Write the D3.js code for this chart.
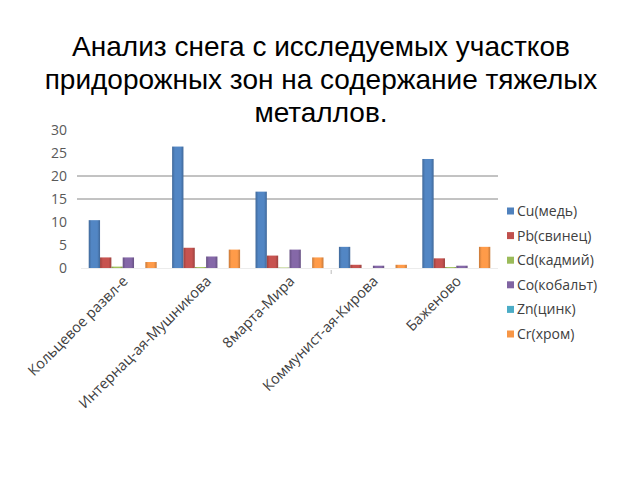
<!DOCTYPE html>
<html><head><meta charset="utf-8">
<script src="https://cdn.jsdelivr.net/npm/d3@7"></script>
<style>body{margin:0;background:#fff;} svg{display:block;}</style>
</head><body>
<svg id="chart" width="640" height="480"></svg>
<script>
const titleLines = ["Анализ снега с исследуемых участков", "придорожных зон на содержание тяжелых", "металлов."];
const categories = ["Кольцевое развл-е", "Интернац-ая-Мушникова", "8марта-Мира", "Коммунист-ая-Кирова", "Баженово"];
const seriesNames = ["Cu(медь)", "Pb(свинец)", "Cd(кадмий)", "Co(кобальт)", "Zn(цинк)", "Cr(хром)"];
const Cu = [10.4, 26.4, 16.6, 4.6, 23.7];
const Pb = [2.3, 4.4, 2.7, 0.7, 2.1];
const Cd = [0.3, 0.2, 0.1, 0, 0.2];
const Co = [2.3, 2.5, 4.0, 0.5, 0.5];
const Zn = [0, 0, 0, 0, 0];
const Cr = [1.3, 4.0, 2.3, 0.7, 4.6];
const seriesValues = [Cu, Pb, Cd, Co, Zn, Cr];
const yTicks = [0, 5, 10, 15, 20, 25, 30];
const gridValues = [15, 20];
const colors = ["#4F81BD", "#C0504D", "#9BBB59", "#8064A2", "#4BACC6", "#F79646"];

const svg = d3.select("#chart");
const labelFont = "'Open Sans', 'DejaVu Sans', sans-serif";

// Title
svg.append("g").selectAll("text").data(titleLines).join("text")
  .attr("x", 321).attr("y", (d, i) => 56 + i * 33)
  .attr("text-anchor", "middle")
  .style("font-family", "'Liberation Sans', Arial, sans-serif")
  .style("font-size", "28px").attr("fill", "#000").text(d => d);

const x0 = d3.scaleBand().domain(categories).range([81, 498]).paddingInner(0.185).paddingOuter(0.0925);
const x1 = d3.scaleBand().domain(seriesNames).range([0, x0.bandwidth()]);
const y = d3.scaleLinear().domain([0, 30]).range([268, 130]);

// gradients
const defs = svg.append("defs");
colors.forEach((c, i) => {
  const g = defs.append("linearGradient").attr("id", "g" + i).attr("x1", "0").attr("x2", "1").attr("y1", "0").attr("y2", "0");
  g.append("stop").attr("offset", "0%").attr("stop-color", d3.color(c).darker(0.6));
  g.append("stop").attr("offset", "25%").attr("stop-color", d3.color(c).brighter(0.1));
  g.append("stop").attr("offset", "75%").attr("stop-color", d3.color(c).brighter(0.1));
  g.append("stop").attr("offset", "100%").attr("stop-color", d3.color(c).darker(0.6));
});

// gridlines
svg.append("g").selectAll("line").data(gridValues).join("line")
  .attr("x1", 77).attr("x2", 498)
  .attr("y1", d => y(d)).attr("y2", d => y(d))
  .attr("stroke", "#868686").attr("stroke-width", 1);

// y axis labels
const yAxis = d3.axisLeft(y).tickValues(yTicks).tickSize(0).tickPadding(0);
const ya = svg.append("g").attr("transform", "translate(67,0)").call(yAxis);
ya.select(".domain").remove();
ya.selectAll("text").style("font-family", labelFont).style("font-size", "14px").attr("fill", "#595959");

// baseline
svg.append("line").attr("x1", 81).attr("x2", 498).attr("y1", y(0) + 0.5).attr("y2", y(0) + 0.5)
  .attr("stroke", "#ececec");
svg.append("line").attr("x1", x0.step() * 3 + 81).attr("x2", x0.step() * 3 + 81)
  .attr("y1", y(0) + 2).attr("y2", y(0) + 6).attr("stroke", "#bbbbbb");

// bars
const groups = svg.append("g").selectAll("g").data(categories).join("g")
  .attr("transform", d => `translate(${x0(d)},0)`);
groups.selectAll("rect").data((d, ci) => seriesNames.map((s, si) => ({s, si, v: seriesValues[si][ci]})))
  .join("rect")
  .attr("x", d => x1(d.s)).attr("width", x1.bandwidth())
  .attr("y", d => y(d.v)).attr("height", d => Math.max(0, y(0) - y(d.v)))
  .attr("fill", d => `url(#g${d.si})`);

// x labels
const xa = svg.append("g").selectAll("text").data(categories).join("text")
  .attr("transform", d => `translate(${x0(d) + x0.bandwidth() / 2 + 6},282) rotate(-45)`)
  .attr("text-anchor", "end")
  .style("font-family", labelFont).style("font-size", "14.5px").attr("fill", "#404040")
  .text(d => d);

// legend
const lg = svg.append("g").selectAll("g").data(seriesNames).join("g")
  .attr("transform", (d, i) => `translate(507,${211 + i * 24.6})`);
lg.append("rect").attr("x", 0).attr("y", -3.5).attr("width", 7).attr("height", 7).attr("fill", (d, i) => colors[i]);
lg.append("text").attr("x", 10).attr("y", 0).attr("dy", "0.35em")
  .style("font-family", labelFont).style("font-size", "14px").attr("fill", "#404040").text(d => d);
</script>
</body></html>
